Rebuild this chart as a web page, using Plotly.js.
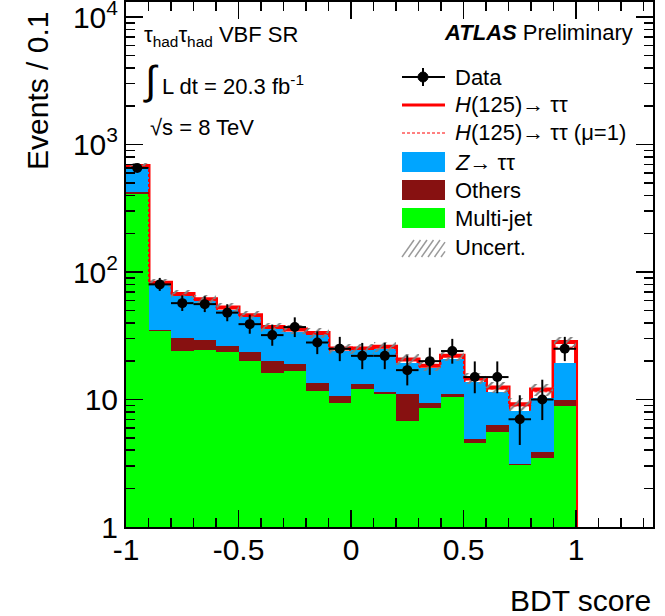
<!DOCTYPE html>
<html>
<head>
<meta charset="utf-8">
<script src="https://cdn.plot.ly/plotly-3.0.1.min.js"></script>
<style>html,body{margin:0;padding:0;background:#fff;}#chart{width:665px;height:616px;}</style>
</head>
<body>
<div id="chart"></div>
<script>
// ---- data ----
const binCenters = [-0.95,-0.85,-0.75,-0.65,-0.55,-0.45,-0.35,-0.25,-0.15,-0.05,0.05,0.15,0.25,0.35,0.45,0.55,0.65,0.75,0.85,0.95];
const binEdges = [-1,-0.9,-0.8,-0.7,-0.6,-0.5,-0.4,-0.3,-0.2,-0.1,0,0.1,0.2,0.3,0.4,0.5,0.6,0.7,0.8,0.9,1.0];
const multijet = [406,34.4,24.1,24.4,23.4,20.0,16.0,16.7,11.7,9.4,12.2,11.0,6.8,8.6,10.5,4.6,5.6,3.05,3.5,8.9];
const others   = [15,0.5,6.5,4.8,2.8,3.4,4.0,2.2,1.7,1.3,1.1,0.5,4.2,0.8,0.5,0.3,0.7,0.05,0.4,1.1];
const ztautau  = [239,44.1,34.1,29.8,24.4,20.6,15.6,15.0,18.6,13.5,11.0,13.3,8.5,8.3,9.8,8.8,5.2,5.1,6.3,9.2];
const signal   = [18,3.3,2.4,2.2,2.1,1.9,1.5,1.5,1.2,0.9,0.8,1.1,1.1,0.7,1.2,0.9,0.9,1.0,1.8,9.1];
const signalMu1= [13,2.4,1.7,1.6,1.5,1.4,1.1,1.1,0.9,0.6,0.6,0.8,0.8,0.5,0.9,0.6,0.6,0.7,1.3,6.5];
const uncert   = [40,6,5,5,4.5,4,3,3,3,2.3,2.2,2.3,2,1.7,2,1.4,1.2,1,1.3,2.5];
const dataVals = [655,80,57,56,48,39,32,37,28,25,22,22,17,20,24,15,15,7,10,25];
const dataErrUp   = [26.1,9.9,8.6,8.5,7.9,7.3,6.7,7.1,6.3,6.0,5.8,5.8,5.2,5.5,5.9,4.9,4.9,3.8,4.3,6.0];
const dataErrDown = [25.1,8.9,7.5,7.5,6.9,6.2,5.6,6.1,5.3,5.0,4.7,4.7,4.1,4.4,4.9,3.8,3.8,2.6,3.1,5.0];
const xTickVals = [-1,-0.5,0,0.5,1];
const xTickText = ['-1','-0.5','0','0.5','1'];
const yTickVals = [1,10,100,1000,10000];
const yTickText = ['1','10','10<sup>2</sup>','10<sup>3</sup>','10<sup>4</sup>'];

// ---- derived stacks ----
const cumOth = multijet.map((v,i)=>v+others[i]);
const cumZ = cumOth.map((v,i)=>v+ztautau[i]);
const total = cumZ.map((v,i)=>v+signal[i]);
const totalMu1 = cumZ.map((v,i)=>v+signalMu1[i]);
const uncBase = total.map((v,i)=>v-uncert[i]);
const uncHeight = uncert.map(v=>2*v);
// step line for mu=1
const stepX=[], stepY=[];
binCenters.forEach((c,i)=>{stepX.push(binEdges[i]); stepY.push(totalMu1[i]);});
stepX.push(binEdges[binEdges.length-1]); stepY.push(totalMu1[totalMu1.length-1]);

const GREEN='#00ff00', BLUE='#00a5ff', DRED='#871111', RED='#ff0000';
const bw = 0.1;

const traces = [
  {type:'bar', x:binCenters, y:total, width:bw, marker:{color:'#ffffff', line:{color:RED, width:4}}, hoverinfo:'skip', showlegend:false},
  {type:'bar', x:binCenters, y:cumZ, width:bw, marker:{color:BLUE, line:{width:0}}, showlegend:false},
  {type:'bar', x:binCenters, y:cumOth, width:bw, marker:{color:DRED, line:{width:0}}, showlegend:false},
  {type:'bar', x:binCenters, y:multijet, width:bw, marker:{color:GREEN, line:{width:0}}, showlegend:false},
  {type:'bar', x:binCenters, y:uncHeight, base:uncBase, width:bw,
    marker:{color:'rgba(0,0,0,0)', line:{width:0},
      pattern:{shape:'/', fgcolor:'#808080', bgcolor:'rgba(0,0,0,0)', size:8, solidity:0.25}}, showlegend:false},
  {type:'scatter', mode:'lines', x:stepX, y:stepY, line:{shape:'hv', color:RED, width:1, dash:'3px,2px'}, showlegend:false},
  {type:'scatter', mode:'markers', x:binCenters, y:dataVals,
    marker:{color:'#000', size:10},
    error_y:{type:'data', symmetric:false, array:dataErrUp, arrayminus:dataErrDown, width:0, thickness:2, color:'#000'},
    error_x:{type:'constant', value:0.05, width:0, thickness:2, color:'#000'}, showlegend:false}
];

// geometry helpers (pixel -> paper)
const W=665,H=616,ML=126,MR=12,MT=2,MB=89;
const PW=W-ML-MR, PH=H-MT-MB;
const px=x=>(x-ML)/PW, py=y=>(H-MB-y)/PH;

const FONT='Liberation Sans, Arial, Helvetica, sans-serif';
const ann=(text,x,y,xa,size,extra)=>Object.assign({text:text,x:px(x),y:py(y),xref:'paper',yref:'paper',xanchor:xa,yanchor:'middle',showarrow:false,font:{family:FONT,size:size,color:'#000'}},extra||{});

const annotations = [
  ann('τ<sub>had</sub>τ<sub>had</sub> VBF SR',142,36,'left',22),
  ann('<span style="font-size:40px">∫</span> L dt = 20.3 fb<sup>-1</sup>',141,80,'left',22),
  ann('√s = 8 TeV',148,127,'left',22),
  ann('<b><i>ATLAS</i></b> Preliminary',635,33,'right',22),
  ann('Data',453,77,'left',22),
  ann('<i>H</i>(125)→ ττ',453,105,'left',22),
  ann('<i>H</i>(125)→ ττ (μ=1)',453,133,'left',22),
  ann('<i>Z</i>→ ττ',453,162,'left',22),
  ann('Others',453,190,'left',22),
  ann('Multi-jet',453,218,'left',22),
  ann('Uncert.',453,248,'left',22),
  ann('BDT score',653,600,'right',30),
  Object.assign(ann('Events / 0.1',37,10,'center',30),{textangle:-90,yanchor:'top'})
];

const sh=(o)=>Object.assign({xref:'paper',yref:'paper'},o);
const shapes = [
  sh({type:'line',x0:px(402),x1:px(445),y0:py(77),y1:py(77),line:{color:'#000',width:2}}),
  sh({type:'line',x0:px(423),x1:px(423),y0:py(68),y1:py(86),line:{color:'#000',width:2}}),
  sh({type:'circle',x0:px(418),x1:px(428),y0:py(72),y1:py(82),fillcolor:'#000',line:{color:'#000',width:1}}),
  sh({type:'line',x0:px(402),x1:px(445),y0:py(105),y1:py(105),line:{color:RED,width:3}}),
  sh({type:'line',x0:px(402),x1:px(445),y0:py(133),y1:py(133),line:{color:RED,width:1,dash:'3px,2px'}}),
  sh({type:'rect',x0:px(402),x1:px(445),y0:py(152),y1:py(172),fillcolor:BLUE,line:{width:0}}),
  sh({type:'rect',x0:px(402),x1:px(445),y0:py(180),y1:py(200),fillcolor:DRED,line:{width:0}}),
  sh({type:'rect',x0:px(402),x1:px(445),y0:py(208),y1:py(228),fillcolor:GREEN,line:{width:0}})
];
// hatched legend box (Uncert.)
for (let k=0;k<7;k++){
  const xs = 402 + k*6.5;
  const x0 = xs, x1 = Math.min(xs+12, 445);
  const y0 = 257, y1 = 257 - (x1-x0)*17/12;
  shapes.push(sh({type:'line',x0:px(x0),x1:px(x1),y0:py(y0),y1:py(y1),line:{color:'#9a9a9a',width:1.5}}));
}

const minorX = [];
for (let v=-9; v<=13; v++){ if (v%5!==0) minorX.push(v/10); }
const minorY = [];
[1,10,100,1000].forEach(d=>{for(let k=2;k<=9;k++) minorY.push(k*d);});

const layout = {
  width:W, height:H,
  margin:{l:ML,r:MR,t:MT,b:MB,pad:0},
  paper_bgcolor:'#fff', plot_bgcolor:'#fff',
  barmode:'overlay', bargap:0,
  showlegend:false,
  font:{family:FONT,size:30,color:'#000'},
  xaxis:{range:[-1,1.342], tickmode:'array', tickvals:xTickVals, ticktext:xTickText,
    ticks:'inside', ticklen:17, tickwidth:1.5, tickcolor:'#000', ticklabelstandoff:-5,
    minor:{tickmode:'array', tickvals:minorX, ticks:'inside', ticklen:9, tickwidth:1.5, tickcolor:'#000'},
    showline:true, linecolor:'#000', linewidth:2, mirror:'ticks', showgrid:false, zeroline:false,
    ticklabeloverflow:'allow',
    tickfont:{family:FONT,size:30,color:'#000'}},
  yaxis:{type:'log', range:[0,4.118], tickmode:'array', tickvals:yTickVals, ticktext:yTickText,
    ticks:'inside', ticklen:17, tickwidth:1.5, tickcolor:'#000',
    minor:{tickmode:'array', tickvals:minorY, ticks:'inside', ticklen:9, tickwidth:1.5, tickcolor:'#000'},
    showline:true, linecolor:'#000', linewidth:2, mirror:'ticks', showgrid:false, zeroline:false,
    ticklabeloverflow:'allow',
    tickfont:{family:FONT,size:30,color:'#000'}},
  annotations:annotations,
  shapes:shapes
};

Plotly.newPlot('chart', traces, layout, {staticPlot:true, displayModeBar:false});
</script>
</body>
</html>
